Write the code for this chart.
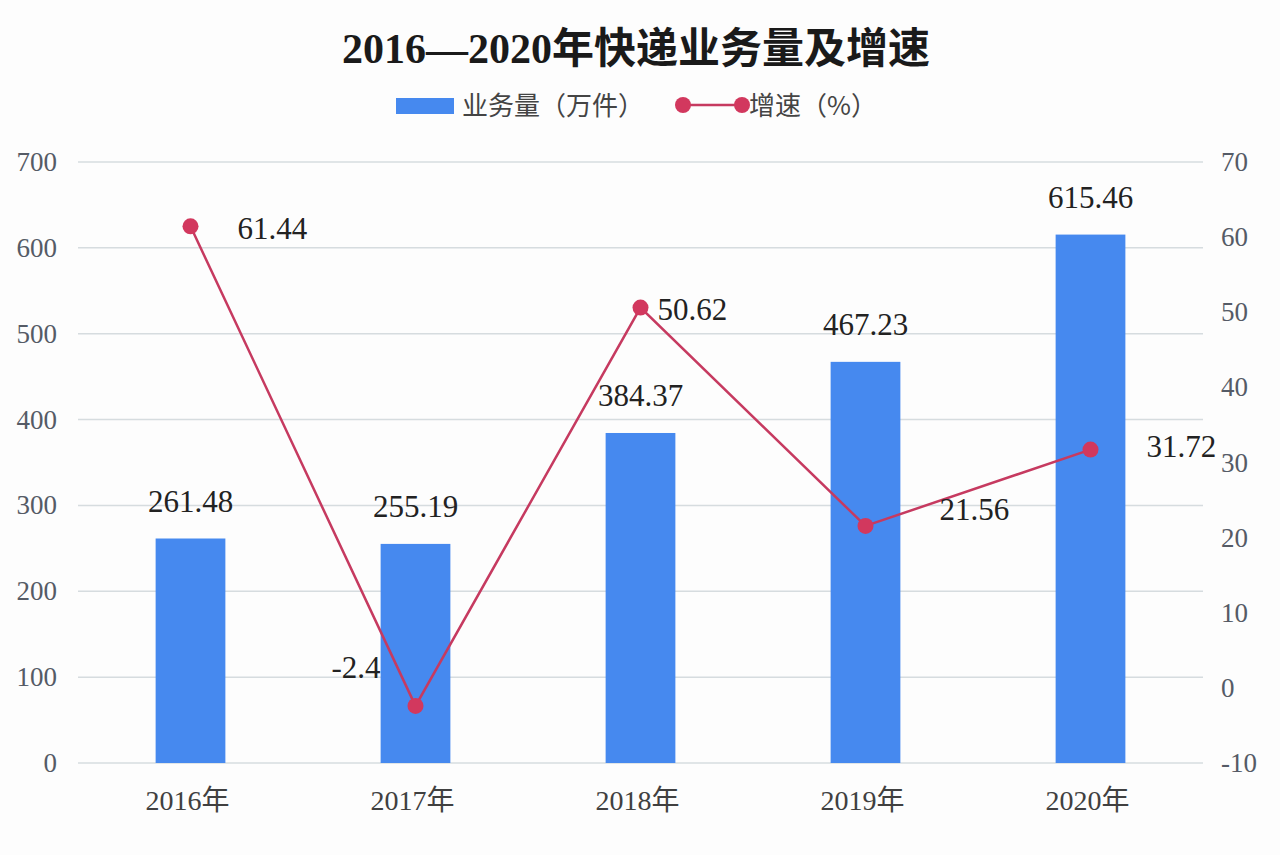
<!DOCTYPE html>
<html>
<head>
<meta charset="utf-8">
<script src="https://cdn.jsdelivr.net/npm/d3@7"></script>
<style>
  html, body { margin: 0; padding: 0; background: #fdfdfd; }
</style>
</head>
<body>
<div id="chart"></div>
<script>
// data
const years = ["2016年", "2017年", "2018年", "2019年", "2020年"];
const volume = [261.48, 255.19, 384.37, 467.23, 615.46];
const growth = [61.44, -2.4, 50.62, 21.56, 31.72];
const leftTicks = [0, 100, 200, 300, 400, 500, 600, 700];
const rightTicks = [-10, 0, 10, 20, 30, 40, 50, 60, 70];

const width = 1280;
const height = 855;
const margin = { top: 162, right: 77, bottom: 92, left: 78 };

const serif = "'Liberation Serif', 'Times New Roman', 'Noto Sans CJK SC', serif";
const sans = "'Noto Sans CJK SC', 'Noto Sans', sans-serif";
const barColor = "#4689ef";
const lineColor = "#c63a60";

const svg = d3
  .select("#chart")
  .append("svg")
  .attr("width", width)
  .attr("height", height)
  .attr("viewBox", [0, 0, width, height]);

const x = d3
  .scaleBand()
  .domain(years)
  .range([margin.left, width - margin.right])
  .paddingInner(0.69)
  .paddingOuter(0.345);

const xc = (d) => x(d) + x.bandwidth() / 2;

const yL = d3
  .scaleLinear()
  .domain([0, 700])
  .range([height - margin.bottom, margin.top]);

const yR = d3
  .scaleLinear()
  .domain([-10, 70])
  .range([height - margin.bottom, margin.top]);

// gridlines
svg
  .append("g")
  .selectAll("line")
  .data(leftTicks)
  .join("line")
  .attr("x1", margin.left)
  .attr("x2", width - margin.right)
  .attr("y1", (d) => yL(d))
  .attr("y2", (d) => yL(d))
  .attr("stroke", "#d6dcdf")
  .attr("stroke-width", 1.5);

// left axis labels
svg
  .append("g")
  .selectAll("text")
  .data(leftTicks)
  .join("text")
  .attr("x", 57)
  .attr("y", (d) => yL(d) + 9)
  .attr("text-anchor", "end")
  .attr("font-family", serif)
  .attr("font-size", 27)
  .attr("fill", "#555b66")
  .text((d) => d);

// right axis labels
svg
  .append("g")
  .selectAll("text")
  .data(rightTicks)
  .join("text")
  .attr("x", 1221)
  .attr("y", (d) => yR(d) + 9)
  .attr("text-anchor", "start")
  .attr("font-family", serif)
  .attr("font-size", 27)
  .attr("fill", "#555b66")
  .text((d) => d);

// x labels
svg
  .append("g")
  .selectAll("text")
  .data(years)
  .join("text")
  .attr("x", (d) => xc(d) - 3)
  .attr("y", 810)
  .attr("text-anchor", "middle")
  .attr("font-family", serif)
  .attr("font-size", 28)
  .attr("fill", "#404040")
  .text((d) => d);

// bars
svg
  .append("g")
  .selectAll("rect")
  .data(volume)
  .join("rect")
  .attr("x", (d, i) => x(years[i]))
  .attr("width", x.bandwidth())
  .attr("y", (d) => yL(d))
  .attr("height", (d) => yL(0) - yL(d))
  .attr("fill", barColor);

// bar labels
svg
  .append("g")
  .selectAll("text")
  .data(volume)
  .join("text")
  .attr("x", (d, i) => xc(years[i]))
  .attr("y", (d) => yL(d) - 27)
  .attr("text-anchor", "middle")
  .attr("font-family", serif)
  .attr("font-size", 31)
  .attr("fill", "#222")
  .text((d) => d.toFixed(2));

// growth line
const line = d3
  .line()
  .x((d, i) => xc(years[i]))
  .y((d) => yR(d));

svg
  .append("path")
  .datum(growth)
  .attr("d", line)
  .attr("fill", "none")
  .attr("stroke", lineColor)
  .attr("stroke-width", 2.5);

svg
  .append("g")
  .selectAll("circle")
  .data(growth)
  .join("circle")
  .attr("cx", (d, i) => xc(years[i]))
  .attr("cy", (d) => yR(d))
  .attr("r", 8)
  .attr("fill", "#d2385e");

// line labels, each nudged like in the original
const nudge = [
  { dx: 47, dy: 13, anchor: "start" },
  { dx: -35, dy: -28, anchor: "end" },
  { dx: 17, dy: 12, anchor: "start" },
  { dx: 74, dy: -6, anchor: "start" },
  { dx: 56, dy: 7, anchor: "start" },
];

svg
  .append("g")
  .selectAll("text")
  .data(growth)
  .join("text")
  .attr("x", (d, i) => xc(years[i]) + nudge[i].dx)
  .attr("y", (d, i) => yR(d) + nudge[i].dy)
  .attr("text-anchor", (d, i) => nudge[i].anchor)
  .attr("font-family", serif)
  .attr("font-size", 31)
  .attr("fill", "#222")
  .text((d) => d);

// title
svg
  .append("text")
  .attr("x", 636)
  .attr("y", 63)
  .attr("text-anchor", "middle")
  .attr("font-family", serif)
  .attr("font-size", 42)
  .attr("font-weight", "bold")
  .attr("fill", "#1a1a1a")
  .text("2016—2020年快递业务量及增速");

// legend
const legend = svg.append("g");
legend
  .append("rect")
  .attr("x", 396)
  .attr("y", 98)
  .attr("width", 58)
  .attr("height", 16)
  .attr("fill", barColor);
legend
  .append("text")
  .attr("x", 462)
  .attr("y", 115)
  .attr("font-family", sans)
  .attr("font-size", 26)
  .attr("fill", "#444")
  .text("业务量（万件）");
legend
  .append("line")
  .attr("x1", 683)
  .attr("x2", 742)
  .attr("y1", 105)
  .attr("y2", 105)
  .attr("stroke", lineColor)
  .attr("stroke-width", 2.5);
legend
  .selectAll("circle")
  .data([683, 742])
  .join("circle")
  .attr("cx", (d) => d)
  .attr("cy", 105)
  .attr("r", 8)
  .attr("fill", "#d2385e");
legend
  .append("text")
  .attr("x", 749)
  .attr("y", 115)
  .attr("font-family", sans)
  .attr("font-size", 26)
  .attr("fill", "#444")
  .text("增速（%）");
</script>
</body>
</html>
